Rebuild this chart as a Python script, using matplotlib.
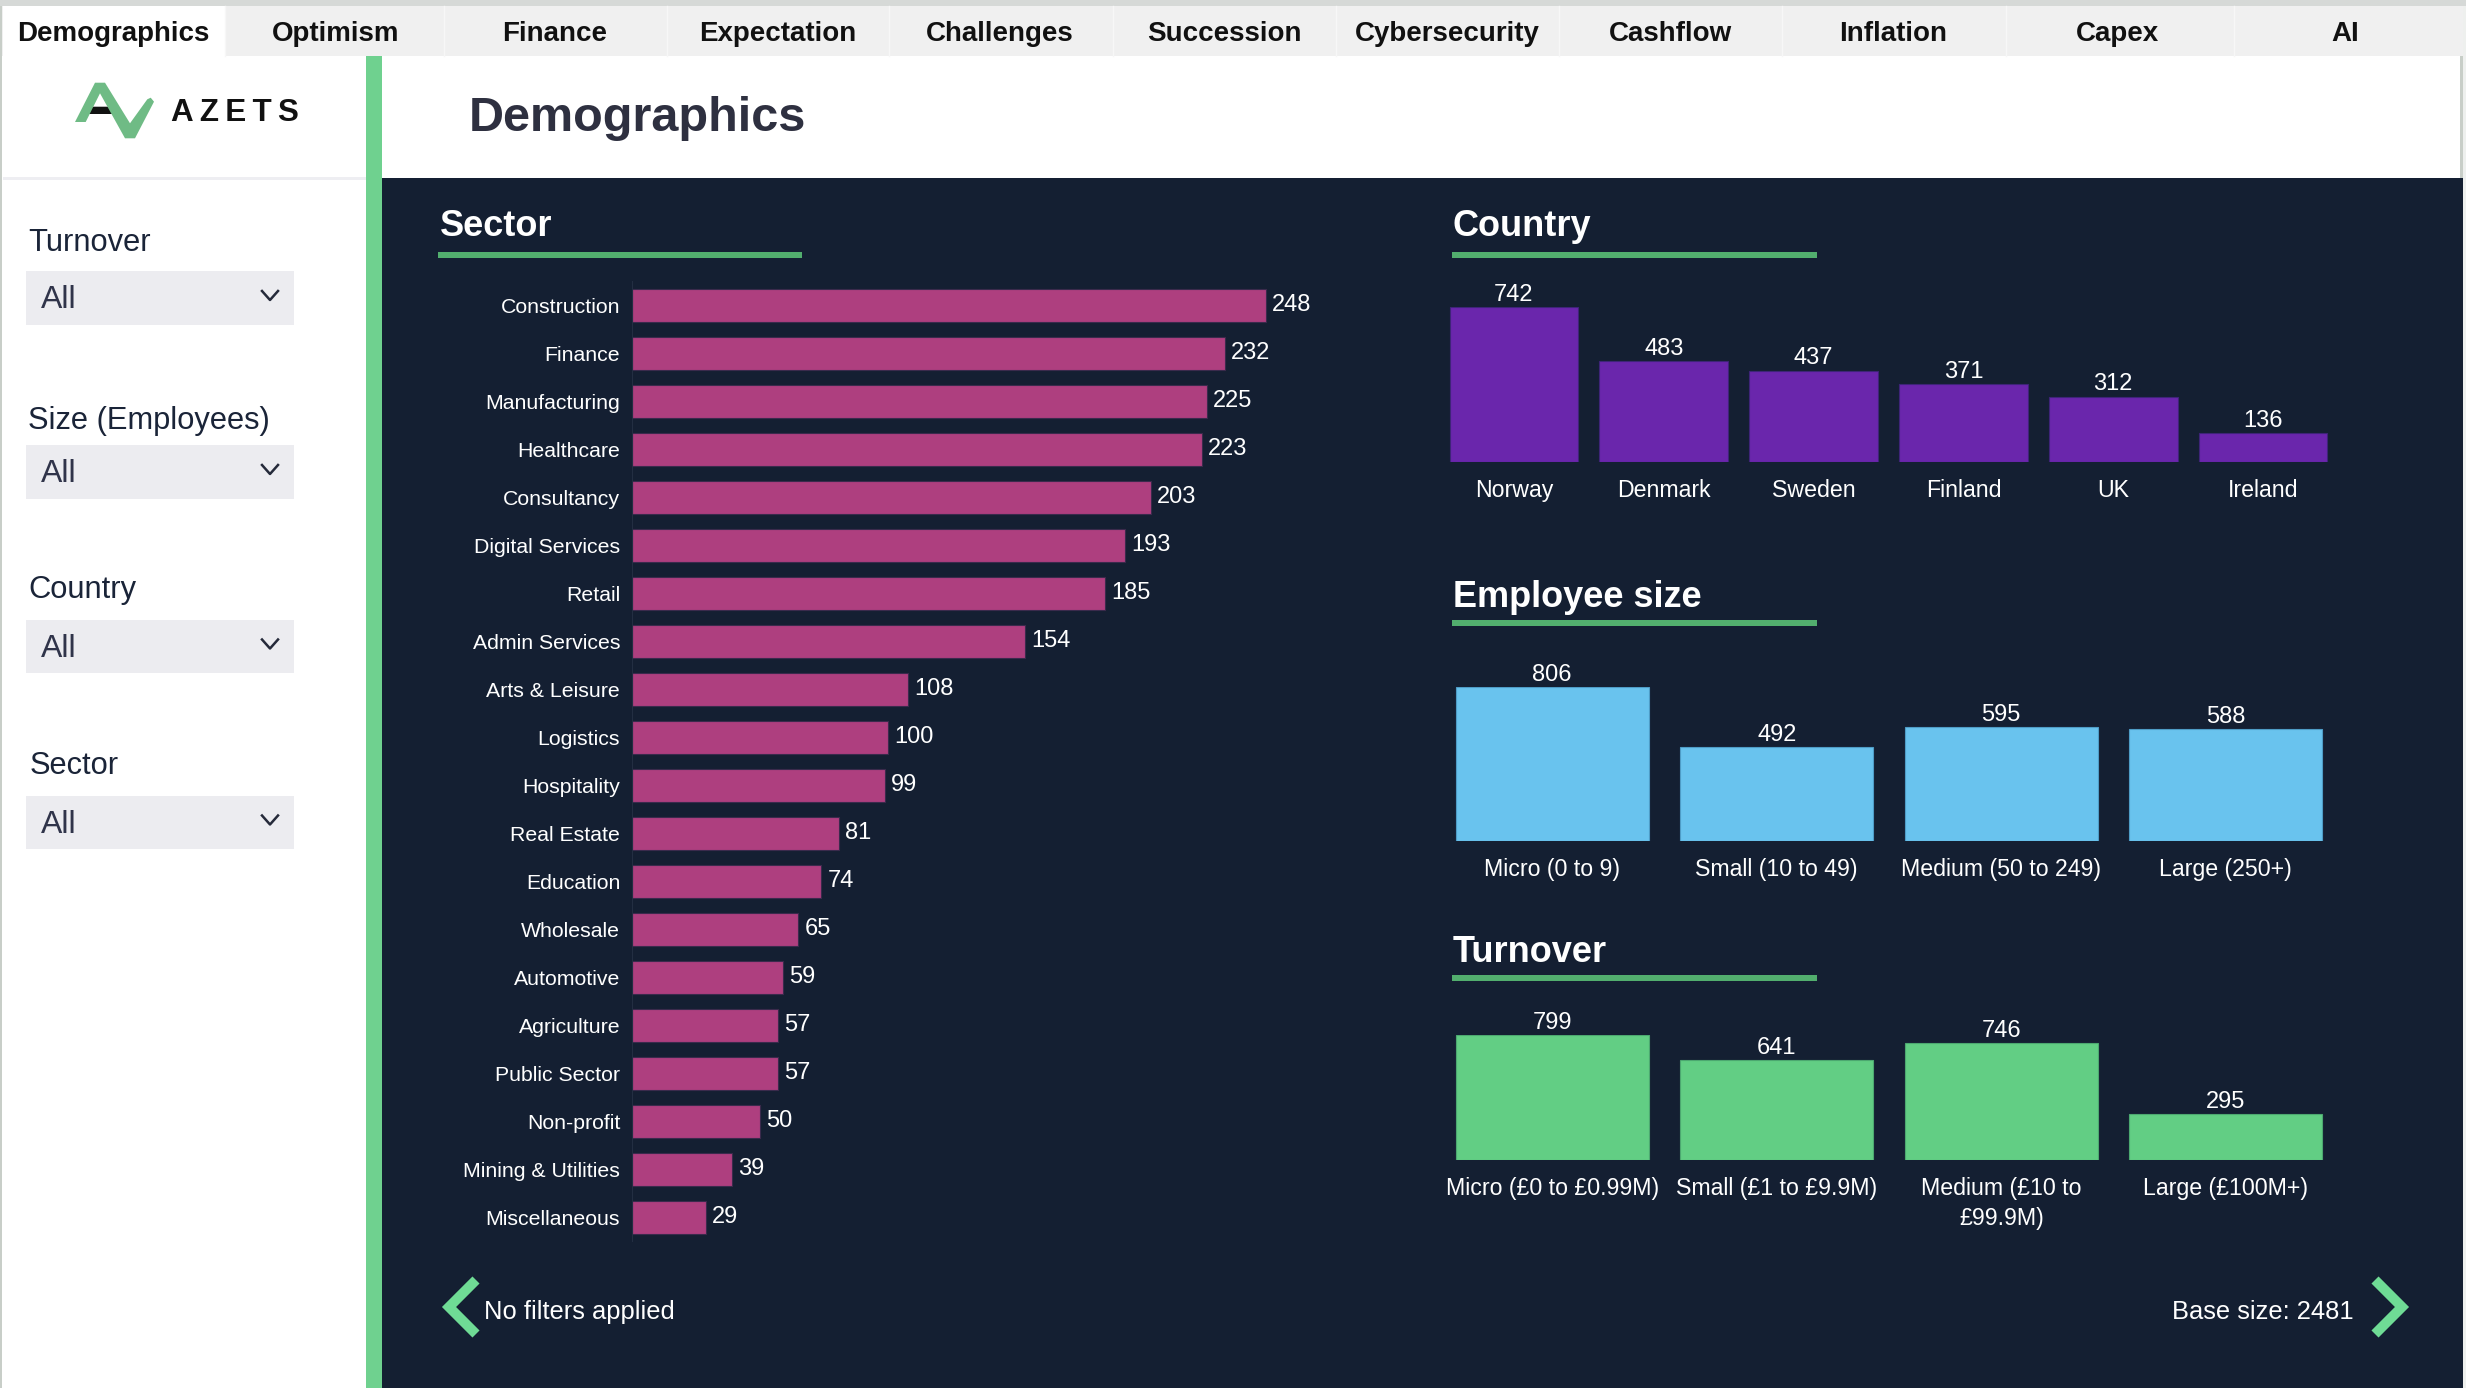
import matplotlib
matplotlib.use("Agg")
import matplotlib.pyplot as plt
from matplotlib.patches import Rectangle, Polygon

plt.rcParams["font.family"] = ["Liberation Sans", "DejaVu Sans"]

# ── data ────────────────────────────────────────────────
tabs = ["Demographics", "Optimism", "Finance", "Expectation", "Challenges", "Succession",
        "Cybersecurity", "Cashflow", "Inflation", "Capex", "AI"]

sectors = ["Construction", "Finance", "Manufacturing", "Healthcare", "Consultancy",
           "Digital Services", "Retail", "Admin Services", "Arts & Leisure", "Logistics",
           "Hospitality", "Real Estate", "Education", "Wholesale", "Automotive",
           "Agriculture", "Public Sector", "Non-profit", "Mining & Utilities", "Miscellaneous"]
sector_values = [248, 232, 225, 223, 203, 193, 185, 154, 108, 100,
                 99, 81, 74, 65, 59, 57, 57, 50, 39, 29]

countries = ["Norway", "Denmark", "Sweden", "Finland", "UK", "Ireland"]
country_values = [742, 483, 437, 371, 312, 136]

employee_sizes = ["Micro (0 to 9)", "Small (10 to 49)", "Medium (50 to 249)", "Large (250+)"]
employee_values = [806, 492, 595, 588]

turnovers = ["Micro (£0 to £0.99M)", "Small (£1 to £9.9M)", "Medium (£10 to\n£99.9M)", "Large (£100M+)"]
turnover_values = [799, 641, 746, 295]

filters = ["Turnover", "Size (Employees)", "Country", "Sector"]

# ── colours ─────────────────────────────────────────────
W, H = 2466, 1388
NAVY = "#141F32"
STRIPE = "#6FD18F"
RULE = "#52AE6E"
PINK = "#AE3F7F"
PURPLE = "#6A26AC"
BLUE = "#69C3EE"
GREEN = "#62CE84"
EDGE = "#C8CEC8"

fig = plt.figure(figsize=(W / 100, H / 100), dpi=100, facecolor="white")

# 페이지 전체를 픽셀 좌표로 쓰는 바탕 축
bg = fig.add_axes([0, 0, 1, 1])
bg.set_xlim(0, W)
bg.set_ylim(H, 0)
bg.axis("off")


def box(x0, y0, x1, y1, color, z=1):
    bg.add_patch(Rectangle((x0, y0), x1 - x0, y1 - y0, facecolor=color, edgecolor="none", zorder=z))


def px_axes(x0, y0, x1, y1):
    """픽셀 영역 하나를 차지하는 축 만들기."""
    ax = fig.add_axes([x0 / W, 1 - y1 / H, (x1 - x0) / W, (y1 - y0) / H])
    ax.patch.set_alpha(0)
    for spine in ax.spines.values():
        spine.set_visible(False)
    return ax


# ── page chrome ─────────────────────────────────────────
box(0, 0, W, 6, "#D6D9D7")
box(0, 6, 2, H, EDGE)
box(2460, 56, 2463, H, EDGE, 0)
box(2463, 6, W, H, "#EEF0EE", 0)
box(2, 6, 2463, 56, "#F0F0F0")
box(3, 6, 225, 56, "white", 2)
tab_centers = [113, 336, 555, 778, 1000, 1224, 1447, 1670, 1893, 2117, 2345]
for i, (name, cx) in enumerate(zip(tabs, tab_centers)):
    bg.text(cx, 34, name, ha="center", va="center", fontsize=20, fontweight="bold", color="#111111", zorder=3)
    if i > 0:
        bg.plot([cx - 111] * 2, [6, 56], color="#F7F7F7", lw=1, zorder=2)

box(366, 56, 382, H, STRIPE)
box(382, 178, 2463, H, NAVY)
box(3, 177, 366, 180, "#EEEEF2")

bg.text(469, 118, "Demographics", ha="left", va="center", fontsize=35, fontweight="bold", color="#2E3040")

# 로고
logo_mark = [[75, 122], [95, 82.7], [105, 82.7], [130, 123.3], [147.3, 99.3], [150.7, 97.7], [154, 101.7],
             [135, 138.3], [125, 138.3], [100, 93.3], [85.7, 122]]
bg.add_patch(Polygon([[89, 106.7], [111, 106.7], [115, 114], [86, 114]], facecolor="#111111", edgecolor="none", zorder=2))
bg.add_patch(Polygon(logo_mark, facecolor="#6FBB85", edgecolor="none", zorder=3))
bg.text(171, 113, "A\u2009Z\u2009E\u2009T\u2009S", ha="left", va="center", fontsize=22.6, fontweight="bold", color="#111111")

# 왼쪽 필터
label_x = [28, 28, 28, 30]
label_y = [243, 421, 590, 766]
drop_y = [(271, 325), (445, 499), (620, 673), (796, 849)]
for name, lx, ly, (y0, y1) in zip(filters, label_x, label_y, drop_y):
    bg.text(lx, ly, name, ha="left", va="center", fontsize=22.2, color="#1A2438")
    box(26, y0, 294, y1, "#ECECF0")
    my = (y0 + y1) / 2
    bg.text(41, my + 2, "All", ha="left", va="center", fontsize=23, color="#30344A", zorder=3)
    bg.plot([262, 270, 278], [my - 7, my + 2, my - 7], color="#252A3A", lw=1.8, zorder=3)

# ── section headings ────────────────────────────────────
for title, tx, ty, rx0, rx1, ry in [("Sector", 440, 226, 438, 802, 255),
                                    ("Country", 1453, 226, 1452, 1817, 255),
                                    ("Employee size", 1453, 597, 1452, 1817, 623),
                                    ("Turnover", 1453, 952, 1452, 1817, 978)]:
    bg.text(tx, ty, title, ha="left", va="center", fontsize=26, fontweight="bold", color="white", zorder=3)
    box(rx0, ry - 3, rx1, ry + 3, RULE, 3)

# ── sector bars ─────────────────────────────────────────
ax = px_axes(632, 288.7 - 7.3, 1400, 288.7 - 7.3 + 48 * 20)
ax.barh(sectors, sector_values, height=33.3 / 48, color=PINK, edgecolor="#3A2A4C", linewidth=0.8)
ax.set_ylim(19.5, -0.5)
ax.set_xlim(0, 768 / 2.555)
ax.xaxis.set_visible(False)
ax.spines["left"].set_visible(True)
ax.spines["left"].set_color("#232E42")
ax.tick_params(axis="y", length=0, pad=8.5, labelsize=15.3, labelcolor="white")
for y, v in enumerate(sector_values):
    ax.annotate(str(v), (v, y), textcoords="offset points", xytext=(4.5, 0), va="center",
                color="white", fontsize=17)


def column_chart(x_labels, values, x0, x1, top, bottom, color, edge):
    ax = px_axes(x0, top, x1, bottom)
    bars = ax.bar(x_labels, values, width=0.858, color=color, edgecolor=edge, linewidth=0.8)
    ax.set_xlim(-0.5, len(values) - 0.5)
    ax.set_ylim(0, max(values))
    ax.yaxis.set_visible(False)
    ax.tick_params(axis="x", length=0, pad=12.5, labelsize=16.7, labelcolor="white")
    for label in ax.get_xticklabels():
        label.set_linespacing(1.35)
    ax.bar_label(bars, padding=0.8, color="white", fontsize=17)
    return ax


column_chart(countries, country_values, 1439, 2338, 307, 461.5, PURPLE, "#3E2478")
column_chart(employee_sizes, employee_values, 1440, 2338, 687, 841, BLUE, "#4E9CC6")
column_chart(turnovers, turnover_values, 1440, 2338, 1035, 1160, GREEN, "#4CA870")

# ── footer ──────────────────────────────────────────────
bg.plot([476, 449, 476], [1280, 1307, 1334], color="#6FDB95", lw=7.2, solid_capstyle="butt",
        solid_joinstyle="miter", zorder=3)
bg.plot([2375, 2402, 2375], [1280, 1307, 1334], color="#6FDB95", lw=7.2, solid_capstyle="butt",
        solid_joinstyle="miter", zorder=3)
bg.text(484, 1312, "No filters applied", ha="left", va="center", fontsize=18.4, color="white", zorder=3)
bg.text(2354, 1312, "Base size: 2481", ha="right", va="center", fontsize=18.4, color="white", zorder=3)

fig.savefig("out.png", dpi=100, facecolor="white")
